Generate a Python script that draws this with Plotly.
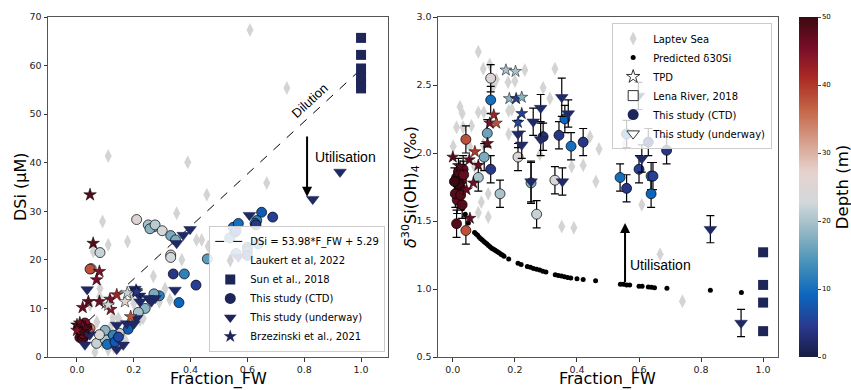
import plotly.graph_objects as go

# ---------------- Left panel data (DSi vs Fraction_FW) ----------------
laukert_x = [0.609, 0.739, 0.11, 0.39, 0.668, 0.457, 0.351, 0.09, 0.11, 0.178, 0.421, 0.439, 0.462,
             0.369, 0.269, 0.31, 0.327, 0.233, 0.081, 0.08, 0.063, 0.09, 0.07, 0.127, 0.19, 0.29,
             0.25, 0.046, 0.05, 0.12, 0.15, 0.11, 0.222, 0.17, 0.057, 0.095, 0.13, 0.03, 0.145, 0.2]
laukert_y = [67.3, 55.4, 41.4, 40.1, 35.8, 33.4, 29.6, 27.9, 23.1, 23.8, 24.1, 24.1, 22.8,
             20.0, 16.6, 14.1, 11.8, 8.0, 14.1, 12.4, 1.0, 2.9, 7.2, 8.2, 12.8, 11.3,
             10.3, 10.7, 5.0, 6.5, 7.5, 1.5, 7.6, 3.5, 21.7, 4.2, 2.0, 3.0, 8.0, 11.0]

sun_x = [1.0, 1.0, 1.0, 1.0, 1.0, 1.0]
sun_y = [65.7, 62.2, 59.4, 57.7, 56.4, 55.3]

ctd_l_x = [0.21, 0.251, 0.271, 0.257, 0.275, 0.30, 0.33, 0.347, 0.33, 0.33, 0.459, 0.081, 0.05, 0.046,
           0.339, 0.378, 0.419, 0.359, 0.29, 0.271, 0.24, 0.216, 0.538, 0.55, 0.556, 0.56, 0.568,
           0.65, 0.689, 0.633, 0.627, 0.63, 0.638, 0.56, 0.6, 0.6, 0.6, 0.18, 0.069, 0.099, 0.099,
           0.079, 0.149, 0.128, 0.107, 0.134, 0.146,
           0.046, 0.04, 0.02, 0.025, 0.015, 0.03, 0.01, 0.02, 0.035, 0.005, 0.028, 0.012, 0.022]
ctd_l_y = [28.3, 27.2, 26.8, 26.4, 27.2, 26.0, 25.0, 24.1, 21.0, 20.5, 20.2, 21.5, 18.2, 18.1,
           17.1, 17.1, 14.8, 11.2, 12.6, 13.0, 10.0, 9.2, 24.5, 26.7, 25.7, 26.0, 27.5,
           29.8, 28.8, 28.1, 27.5, 27.2, 23.3, 21.3, 22.6, 21.8, 20.9, 5.7, 2.8, 3.6, 5.5,
           4.6, 4.9, 4.5, 2.6, 3.1, 4.1,
           5.9, 5.2, 6.5, 5.8, 5.0, 4.5, 4.0, 3.7, 6.2, 6.0, 7.0, 5.5, 4.8]
ctd_l_depth = [25, 20, 19, 18, 21, 23, 17, 17, 24, 23, 15, 22, 25, 38,
               4, 12, 5, 9, 12, 17, 18, 20, 12, 10, 9, 6, 10,
               8, 5, 12, 11, 4, 11, 12, 6, 10, 5, 8, 22, 20, 18,
               24, 22, 12, 10, 8, 6,
               33, 36, 48, 49, 47, 50, 48, 49, 46, 47, 45, 50, 46]

uw_l_x = [0.83, 0.926, 0.607, 0.398, 0.374, 0.351, 0.568, 0.345, 0.036, 0.204, 0.22, 0.251, 0.275,
          0.262, 0.222, 0.21, 0.14, 0.175, 0.14, 0.163, 0.028, 0.045, 0.2]
uw_l_y = [32.5, 38.1, 29.2, 26.3, 25.1, 23.4, 20.6, 13.8, 13.9, 14.0, 12.6, 12.1, 12.1,
          11.4, 11.4, 8.0, 6.6, 6.9, 1.6, 2.5, 2.5, 4.6, 6.8]
uw_l_depth = [2, 2, 2, 2, 2, 2, 2, 2, 2, 2, 2, 2, 2, 2, 2, 2, 2, 2, 2, 2, 2, 2, 2]

brz_l_x = [0.046, 0.057, 0.079, 0.069, 0.04, 0.02, 0.079, 0.119, 0.116, 0.14, 0.11, 0.169, 0.177,
           0.208, 0.21, 0.189, 0.0, 0.01, 0.02, 0.03, 0.015, 0.0]
brz_l_y = [33.4, 23.4, 17.6, 15.9, 11.4, 10.2, 11.4, 9.8, 11.9, 12.8, 10.7, 11.4, 13.2,
           13.7, 13.4, 8.3, 6.6, 7.0, 6.3, 5.8, 5.2, 5.5]
brz_l_depth = [48, 48, 45, 46, 48, 47, 46, 44, 45, 42, 24, 26, 22,
               5, 4, 38, 48, 47, 46, 48, 49, 45]

fit_slope = 53.98
fit_intercept = 5.29
fit_x = [0.04, 1.0]

# ---------------- Right panel data (d30Si vs Fraction_FW) ----------------
laptev_x = [0.082, 0.098, 0.119, 0.14, 0.13, 0.082, 0.023, 0.03, 0.012, 0.033, 0.001, 0.054, 0.1,
            0.178, 0.18, 0.18, 0.2, 0.232, 0.19, 0.291, 0.313, 0.329, 0.098, 0.383, 0.42, 0.442,
            0.471, 0.461, 0.555, 0.092, 0.082, 0.114, 0.114, 0.351, 0.39, 0.609, 0.668, 0.74,
            0.28, 0.06, 0.07]
laptev_y = [2.745, 2.62, 2.65, 2.54, 2.49, 2.30, 2.34, 2.29, 2.19, 2.19, 2.05, 2.05, 2.30,
            2.52, 2.31, 2.14, 2.53, 2.61, 2.32, 2.48, 2.40, 2.62, 2.06, 1.90, 1.91, 2.12,
            2.03, 1.79, 2.07, 1.64, 1.56, 1.53, 1.70, 1.46, 1.45, 1.62, 1.255, 0.91,
            1.99, 2.20, 1.90]

pred_x = [0.031, 0.04, 0.05, 0.07, 0.075, 0.08, 0.085, 0.09, 0.095, 0.10, 0.105, 0.11, 0.115, 0.12,
          0.125, 0.13, 0.135, 0.14, 0.145, 0.15, 0.155, 0.16, 0.165, 0.18, 0.21, 0.22, 0.24,
          0.25, 0.26, 0.27, 0.28, 0.29, 0.30, 0.33, 0.34, 0.35, 0.36, 0.37, 0.38, 0.40, 0.42,
          0.46, 0.54, 0.55, 0.56, 0.57, 0.60, 0.61, 0.63, 0.64, 0.65, 0.69, 0.83, 0.93]
pred_y = [1.59, 1.55, 1.485, 1.415, 1.405, 1.395, 1.38, 1.37, 1.36, 1.35, 1.34, 1.33, 1.32, 1.31,
          1.30, 1.295, 1.287, 1.28, 1.272, 1.265, 1.255, 1.25, 1.24, 1.22, 1.19, 1.18, 1.165,
          1.16, 1.15, 1.145, 1.14, 1.13, 1.125, 1.105, 1.10, 1.095, 1.09, 1.085, 1.08, 1.075, 1.07,
          1.06, 1.035, 1.035, 1.03, 1.03, 1.02, 1.02, 1.015, 1.012, 1.01, 1.005, 0.99, 0.975]

ctd_r_x = [0.122, 0.122, 0.042, 0.111, 0.101, 0.122, 0.082, 0.152, 0.21, 0.252, 0.291, 0.329,
           0.342, 0.361, 0.381, 0.42, 0.56, 0.539, 0.56, 0.6, 0.63, 0.639, 0.645, 0.639, 0.689,
           0.27, 0.042, 0.012,
           0.014, 0.02, 0.025, 0.028, 0.033, 0.012, 0.02, 0.008, 0.03, 0.018, 0.035, 0.005, 0.025]
ctd_r_y = [2.55, 2.39, 2.10, 2.145, 1.97, 1.88, 1.82, 1.70, 1.97, 1.78, 2.12, 1.80,
           2.13, 2.25, 2.05, 2.08, 2.14, 1.82, 1.74, 1.88, 2.08, 1.83, 1.83, 1.70, 2.02,
           1.55, 1.43, 1.48,
           1.655, 1.73, 1.74, 1.80, 1.88, 1.82, 1.77, 1.70, 1.62, 1.86, 1.84, 1.79, 1.69]
ctd_r_depth = [25, 10, 38, 16, 17, 4, 20, 20, 25, 18, 3, 24,
               4, 9, 10, 4, 12, 10, 4, 5, 4, 10, 5, 9, 4,
               22, 38, 48,
               47, 49, 48, 48, 47, 49, 50, 48, 48, 49, 47, 50, 48]
ctd_r_err = [0.1, 0.1, 0.1, 0.1, 0.1, 0.1, 0.1, 0.1, 0.1, 0.15, 0.1, 0.1,
             0.1, 0.1, 0.1, 0.1, 0.1, 0.1, 0.1, 0.1, 0.1, 0.1, 0.1, 0.1, 0.1,
             0.1, 0.1, 0.1,
             0.1, 0.1, 0.1, 0.1, 0.1, 0.1, 0.1, 0.1, 0.1, 0.1, 0.1, 0.1, 0.1]

uw_r_x = [0.259, 0.283, 0.283, 0.351, 0.372, 0.21, 0.222, 0.252, 0.353, 0.609, 0.598, 0.83, 0.929]
uw_r_y = [2.23, 2.33, 2.10, 2.41, 2.29, 2.14, 2.06, 1.79, 1.79, 1.96, 2.42, 1.44, 0.75]
uw_r_err = [0.1, 0.1, 0.12, 0.14, 0.1, 0.1, 0.1, 0.15, 0.1, 0.1, 0.1, 0.1, 0.1]
uw_r_depth = [2, 2, 2, 2, 2, 2, 2, 2, 2, 2, 2, 2, 2]

tpd_x = [0.171, 0.202, 0.182, 0.204, 0.222, 0.222, 0.21, 0.132, 0.119, 0.14, 0.112, 0.071, 0.053,
         0.082, 0.0, 0.023, 0.066, 0.044, 0.055]
tpd_y = [2.61, 2.60, 2.40, 2.40, 2.41, 2.29, 2.225, 2.28, 2.22, 2.22, 2.07, 2.01, 1.95,
         1.91, 1.97, 1.90, 1.78, 1.73, 1.52]
tpd_depth = [20, 20, 18, 5, 18, 5, 6, 42, 45, 38, 47, 40, 47,
             47, 48, 48, 46, 47, 47]

lena_x = [1.0, 1.0, 1.0, 1.0]
lena_y = [1.27, 1.03, 0.90, 0.69]

# ---------------- Styling ----------------
NAVY = "#1e2558"
LGRAY = "#d4d4d4"
EDGE = dict(color="black", width=0.7)

fig = go.Figure()

# Left panel traces (drawn)
fig.add_trace(go.Scatter(x=laukert_x, y=laukert_y, mode="markers", xaxis="x", yaxis="y",
                         marker=dict(symbol="diamond-tall", size=10, color=LGRAY, line=dict(width=0)),
                         showlegend=False, hoverinfo="skip"))
fig.add_trace(go.Scatter(x=fit_x, y=[fit_slope * v + fit_intercept for v in fit_x], mode="lines",
                         xaxis="x", yaxis="y", line=dict(color="black", width=1, dash="dash"),
                         name="DSi = 53.98*F_FW + 5.29", legend="legend"))
fig.add_trace(go.Scatter(x=sun_x, y=sun_y, mode="markers", xaxis="x", yaxis="y",
                         marker=dict(symbol="square", size=10, color=NAVY, line=dict(width=0)),
                         showlegend=False))
fig.add_trace(go.Scatter(x=ctd_l_x, y=ctd_l_y, mode="markers", xaxis="x", yaxis="y",
                         marker=dict(symbol="circle", size=10, color=ctd_l_depth, coloraxis="coloraxis",
                                     line=EDGE), showlegend=False))
fig.add_trace(go.Scatter(x=uw_l_x, y=uw_l_y, mode="markers", xaxis="x", yaxis="y",
                         marker=dict(symbol="triangle-down", size=11, color=uw_l_depth, coloraxis="coloraxis",
                                     line=dict(color=NAVY, width=0.5)), showlegend=False))
fig.add_trace(go.Scatter(x=brz_l_x, y=brz_l_y, mode="markers", xaxis="x", yaxis="y",
                         marker=dict(symbol="star", size=9.5, color=brz_l_depth, coloraxis="coloraxis",
                                     line=dict(color="black", width=0.5)), showlegend=False))

# Left legend-only entries
for sym, col, nm, sz in [("diamond-tall", LGRAY, "Laukert et al, 2022", 10),
                         ("square", NAVY, "Sun et al., 2018", 10),
                         ("circle", NAVY, "This study (CTD)", 11),
                         ("triangle-down", NAVY, "This study (underway)", 11),
                         ("star", NAVY, "Brzezinski et al., 2021", 10)]:
    fig.add_trace(go.Scatter(x=[None], y=[None], mode="markers", xaxis="x", yaxis="y",
                             marker=dict(symbol=sym, size=sz, color=col, line=dict(width=0)),
                             name=nm, legend="legend"))

# Right panel traces
ERR = dict(type="data", color="black", thickness=1.2, width=4)
fig.add_trace(go.Scatter(x=laptev_x, y=laptev_y, mode="markers", xaxis="x2", yaxis="y2",
                         marker=dict(symbol="diamond-tall", size=10, color=LGRAY, line=dict(width=0)),
                         showlegend=False))
fig.add_trace(go.Scatter(x=pred_x, y=pred_y, mode="markers", xaxis="x2", yaxis="y2",
                         marker=dict(symbol="circle", size=5, color="black", line=dict(width=0)),
                         showlegend=False))
fig.add_trace(go.Scatter(x=lena_x, y=lena_y, mode="markers", xaxis="x2", yaxis="y2",
                         marker=dict(symbol="square", size=10, color=NAVY, line=dict(width=0)),
                         showlegend=False))
fig.add_trace(go.Scatter(x=ctd_r_x, y=ctd_r_y, mode="markers", xaxis="x2", yaxis="y2",
                         error_y=dict(array=ctd_r_err, **ERR),
                         marker=dict(symbol="circle", size=10, color=ctd_r_depth, coloraxis="coloraxis",
                                     line=EDGE), showlegend=False))
fig.add_trace(go.Scatter(x=uw_r_x, y=uw_r_y, mode="markers", xaxis="x2", yaxis="y2",
                         error_y=dict(array=uw_r_err, **ERR),
                         marker=dict(symbol="triangle-down", size=11, color=uw_r_depth, coloraxis="coloraxis",
                                     line=dict(color=NAVY, width=0.5)), showlegend=False))
fig.add_trace(go.Scatter(x=tpd_x, y=tpd_y, mode="markers", xaxis="x2", yaxis="y2",
                         marker=dict(symbol="star", size=9, color=tpd_depth, coloraxis="coloraxis",
                                     line=dict(color="black", width=0.5)), showlegend=False))

# Right legend-only entries
for sym, col, lc, lw, nm, sz in [("diamond-tall", LGRAY, LGRAY, 0, "Laptev Sea", 10),
                                 ("circle", "black", "black", 0, "Predicted δ30Si", 5),
                                 ("star", "white", "black", 0.8, "TPD", 10),
                                 ("square", "white", "black", 0.8, "Lena River, 2018", 10),
                                 ("circle", NAVY, NAVY, 0, "This study (CTD)", 11),
                                 ("triangle-down", "white", "black", 0.8, "This study (underway)", 11)]:
    fig.add_trace(go.Scatter(x=[None], y=[None], mode="markers", xaxis="x2", yaxis="y2",
                             marker=dict(symbol=sym, size=sz, color=col, line=dict(color=lc, width=lw)),
                             name=nm, legend="legend2"))

axis_common = dict(showline=True, mirror=True, linecolor="#555", linewidth=1, ticks="outside",
                   ticklen=3.5, tickcolor="#333", showgrid=False, zeroline=False,
                   tickfont=dict(size=9.5, color="#222"), automargin=False)

TITLE_FONT = dict(family="DejaVu Sans", size=16, color="black")

fig.update_layout(
    width=851, height=390,
    margin=dict(l=48, r=73, t=17, b=33, autoexpand=False),
    paper_bgcolor="white", plot_bgcolor="white",
    font=dict(family="DejaVu Sans", color="black"),
    xaxis=dict(domain=[0, 0.4658], range=[-0.102, 1.095], tickvals=[0, 0.2, 0.4, 0.6, 0.8, 1.0],
               tickformat=".1f", anchor="y", **axis_common),
    yaxis=dict(range=[0, 70], tickvals=[0, 10, 20, 30, 40, 50, 60, 70], anchor="x", **axis_common),
    xaxis2=dict(domain=[0.5342, 1], range=[-0.048, 1.048], tickvals=[0, 0.2, 0.4, 0.6, 0.8, 1.0],
                tickformat=".1f", anchor="y2", **axis_common),
    yaxis2=dict(range=[0.5, 3.0], tickvals=[0.5, 1.0, 1.5, 2.0, 2.5, 3.0], tickformat=".1f",
                anchor="x2", **axis_common),
    coloraxis=dict(colorscale="balance", cmin=0, cmax=50,
                   colorbar=dict(x=1.0288, xanchor="left", xpad=0, y=0.5, yanchor="middle", len=1,
                                 lenmode="fraction", ypad=0,
                                 thickness=19, tickvals=[0, 10, 20, 30, 40, 50], ticks="outside", ticklen=3,
                                 tickfont=dict(size=7), outlinewidth=0,
                                 title=dict(text="Depth (m)", side="right", font=dict(size=16.5)))),
    legend=dict(x=0.462, xanchor="right", y=0.015, yanchor="bottom", bgcolor="rgba(255,255,255,0.85)",
                bordercolor="#cccccc", borderwidth=1, font=dict(size=10), traceorder="normal",
                itemwidth=30),
    legend2=dict(x=0.992, xanchor="right", y=0.982, yanchor="top", bgcolor="rgba(255,255,255,0.8)",
                 bordercolor="#cccccc", borderwidth=1, font=dict(size=10), traceorder="normal",
                 itemwidth=30),
    annotations=[
        # axis titles
        dict(x=0.2329, y=-0.066, xref="paper", yref="paper", text="Fraction_FW", showarrow=False,
             xanchor="center", yanchor="middle", font=TITLE_FONT, borderpad=0),
        dict(x=0.7671, y=-0.066, xref="paper", yref="paper", text="Fraction_FW", showarrow=False,
             xanchor="center", yanchor="middle", font=TITLE_FONT, borderpad=0),
        dict(x=-0.0384, y=0.5, xref="paper", yref="paper", text="DSi (μM)", showarrow=False,
             textangle=-90, xanchor="center", yanchor="middle", font=TITLE_FONT),
        dict(x=0.4959, y=0.5, xref="paper", yref="paper",
             text="<i>δ</i><sup>30</sup>Si(OH)<sub>4</sub> (‰)", showarrow=False,
             textangle=-90, xanchor="center", yanchor="middle", font=TITLE_FONT),
        # arrows and labels
        dict(x=0.81, y=33.0, ax=0.81, ay=45.7, xref="x", yref="y", axref="x", ayref="y", text="",
             showarrow=True, arrowhead=2, arrowsize=1, arrowwidth=2, arrowcolor="black"),
        dict(x=0.944, y=41.2, xref="x", yref="y", text="Utilisation", showarrow=False,
             font=dict(family="Liberation Sans", size=14)),
        dict(x=0.82, y=52.8, xref="x", yref="y", text="Dilution", showarrow=False, textangle=-42.7,
             font=dict(family="Liberation Sans", size=13)),
        dict(x=0.555, y=1.485, ax=0.555, ay=1.04, xref="x2", yref="y2", axref="x2", ayref="y2", text="",
             showarrow=True, arrowhead=2, arrowsize=1, arrowwidth=2, arrowcolor="black"),
        dict(x=0.565, y=1.18, xref="x2", yref="y2", text="Utilisation", showarrow=False, xanchor="left",
             font=dict(family="Liberation Sans", size=14)),
    ],
)

fig.write_html("out.html")
